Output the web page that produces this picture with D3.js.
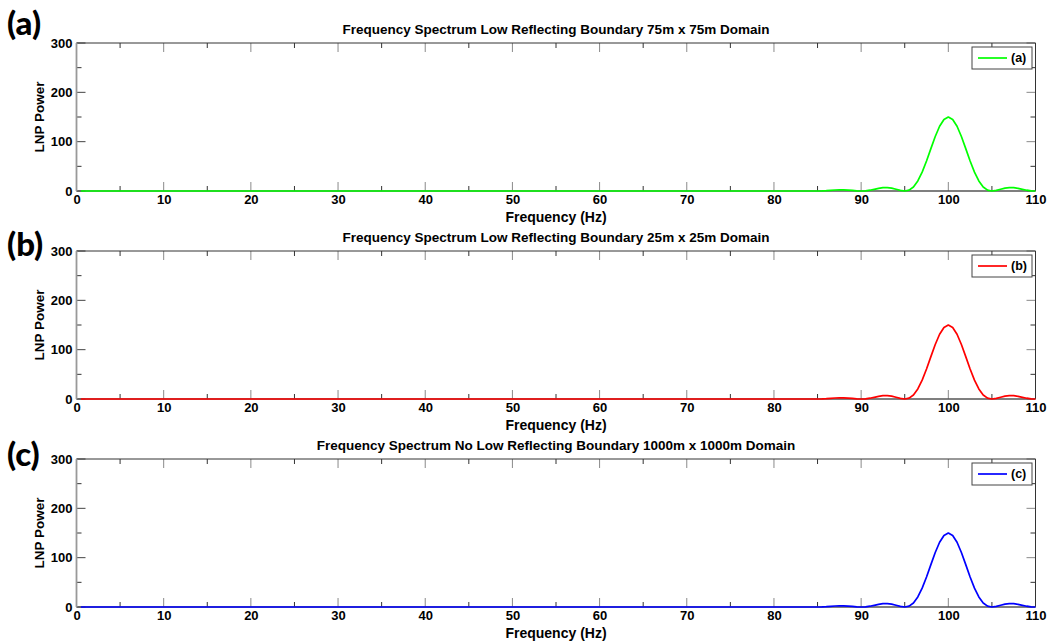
<!DOCTYPE html>
<html>
<head>
<meta charset="utf-8">
<script src="https://cdn.jsdelivr.net/npm/d3@7"></script>
<style>
  html, body { margin: 0; padding: 0; background: #fff; }
  svg { display: block; }
  text { font-family: "Liberation Sans", Arial, sans-serif; font-weight: bold; fill: #000; }
</style>
</head>
<body>
<svg id="chart" width="1050" height="644"></svg>
<script>
// Frequency axis samples (Hz) and LNP power readings, shared by all three runs
const frequency = [0.5, 85, 85.5, 86, 86.5, 87, 87.5, 88, 88.5, 89, 89.5, 90,
  90.5, 91, 91.5, 92, 92.5, 93, 93.5, 94, 94.5, 95, 95.5, 96, 96.5, 97, 97.5, 98,
  98.5, 99, 99.5, 100, 100.5, 101, 101.5, 102, 102.5, 103, 103.5, 104, 104.5, 105,
  105.5, 106, 106.5, 107, 107.5, 108, 108.5, 109, 109.5, 110];
const powerA = [0, 0, 0.2, 0.7, 1.4, 2.0, 2.4, 2.4, 1.9, 1.1, 0.3, 0,
  0.4, 1.6, 3.4, 5.4, 6.8, 7.0, 5.9, 3.6, 1.2, 0, 1.8, 8.2, 20.3, 38.2, 60.8, 85.9,
  110.5, 131.3, 145.1, 150, 145.1, 131.3, 110.5, 85.9, 60.8, 38.2, 20.3, 8.2, 1.8, 0,
  1.2, 3.6, 5.9, 7.0, 6.8, 5.4, 3.4, 1.6, 0.4, 0];
const powerB = powerA.slice();
const powerC = powerA.slice();

const xTicks = [0, 10, 20, 30, 40, 50, 60, 70, 80, 90, 100, 110];
const yTicks = [0, 100, 200, 300];

const panels = [
  { tag: "(a)", title: "Frequency Spectrum Low Reflecting Boundary 75m x 75m Domain", values: powerA, color: "#00ff00", top: 43, tagY: 23 },
  { tag: "(b)", title: "Frequency Spectrum Low Reflecting Boundary 25m x 25m Domain", values: powerB, color: "#ff0000", top: 251, tagY: 244 },
  { tag: "(c)", title: "Frequency Spectrum No Low Reflecting Boundary 1000m x 1000m Domain", values: powerC, color: "#0000ff", top: 459, tagY: 454 }
];

const svg = d3.select("#chart");
const left = 76.5, right = 1035.5, plotH = 148;

const x = d3.scaleLinear().domain([0, 110]).range([left, right]);

panels.forEach(p => {
  const y = d3.scaleLinear().domain([0, 300]).range([p.top + plotH, p.top]);
  const g = svg.append("g");
  const bottom = p.top + plotH;

  // minor and major ticks drawn inward on all four sides
  const xMinor = d3.range(5, 110, 10);
  const yMinor = [50, 150, 250];
  const tick = (x1, y1, x2, y2, c) => g.append("line")
    .attr("x1", x1).attr("y1", y1).attr("x2", x2).attr("y2", y2)
    .attr("stroke", c).attr("stroke-width", 1);
  xTicks.forEach(v => { tick(x(v), bottom, x(v), bottom - 9, "#8a8a8a"); tick(x(v), p.top, x(v), p.top + 9, "#8a8a8a"); });
  xMinor.forEach(v => { tick(x(v), bottom, x(v), bottom - 5, "#333"); tick(x(v), p.top, x(v), p.top + 5, "#333"); });
  yTicks.forEach(v => { tick(left, y(v), left + 9, y(v), "#444"); tick(right, y(v), right - 9, y(v), "#8a8a8a"); });
  yMinor.forEach(v => { tick(left, y(v), left + 5, y(v), "#333"); tick(right, y(v), right - 5, y(v), "#333"); });

  // frame
  g.append("line").attr("x1", left).attr("x2", right).attr("y1", p.top).attr("y2", p.top).attr("stroke", "#333");
  g.append("line").attr("x1", right).attr("x2", right).attr("y1", p.top).attr("y2", bottom).attr("stroke", "#333");
  g.append("line").attr("x1", left).attr("x2", right).attr("y1", bottom).attr("y2", bottom).attr("stroke", "#555").attr("stroke-width", 1.5);
  g.append("line").attr("x1", left).attr("x2", left).attr("y1", p.top).attr("y2", bottom).attr("stroke", "#999").attr("stroke-width", 1.8);

  // tick labels via d3 axes with hidden lines
  const xAxis = g.append("g").attr("transform", `translate(0,${bottom})`)
    .call(d3.axisBottom(x).tickValues(xTicks).tickSize(0).tickPadding(4).tickFormat(d3.format("d")));
  const yAxis = g.append("g").attr("transform", `translate(${left},0)`)
    .call(d3.axisLeft(y).tickValues(yTicks).tickSize(0).tickPadding(4).tickFormat(d3.format("d")));
  [xAxis, yAxis].forEach(a => {
    a.select(".domain").remove();
    a.selectAll("text").style("font-family", "'Liberation Sans', Arial, sans-serif")
      .style("font-weight", "bold").style("font-size", "13px").attr("fill", "#000");
  });

  // spectrum line
  const line = d3.line().x((d, i) => x(frequency[i])).y(d => y(d));
  g.append("path").datum(p.values).attr("d", line)
    .attr("fill", "none").attr("stroke", p.color).attr("stroke-width", 1.7)
    .attr("stroke-linejoin", "round");

  // titles and axis labels
  g.append("text").attr("x", (left + right) / 2).attr("y", p.top - 9)
    .attr("text-anchor", "middle").style("font-size", "13.5px").text(p.title);
  g.append("text").attr("x", (left + right) / 2).attr("y", bottom + 31)
    .attr("text-anchor", "middle").style("font-size", "14px").text("Frequency (Hz)");
  g.append("text").attr("transform", `translate(44,${p.top + plotH / 2}) rotate(-90)`)
    .attr("text-anchor", "middle").style("font-size", "13.5px").text("LNP Power");

  // panel tag
  g.append("text").attr("x", 7).attr("y", p.tagY).attr("dy", "0.35em")
    .style("font-family", "Lato, 'Open Sans', sans-serif").style("font-weight", "900")
    .style("font-size", "33px").text(p.tag);

  // legend
  const lg = g.append("g").attr("transform", `translate(972,${p.top + 4})`);
  lg.append("rect").attr("x", 0).attr("y", 0).attr("width", 60).attr("height", 22)
    .attr("fill", "#fff").attr("stroke", "#444").attr("stroke-width", 1);
  lg.append("line").attr("x1", 6).attr("x2", 35).attr("y1", 11).attr("y2", 11)
    .attr("stroke", p.color).attr("stroke-width", 1.7);
  lg.append("text").attr("x", 39).attr("y", 11).attr("dy", "0.35em")
    .style("font-size", "12.5px").text(p.tag);
});
</script>
</body>
</html>
